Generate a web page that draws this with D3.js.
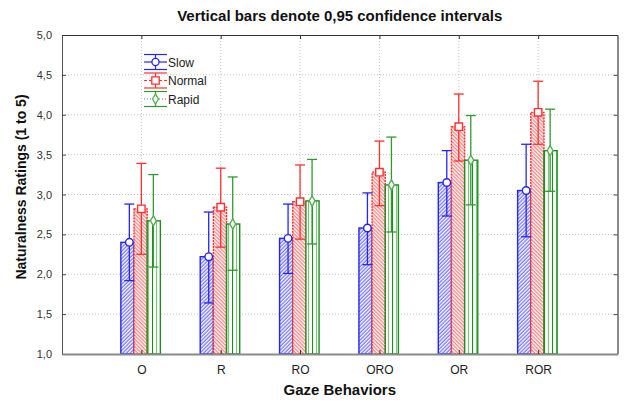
<!DOCTYPE html>
<html>
<head>
<meta charset="utf-8">
<script src="https://cdn.jsdelivr.net/npm/d3@7"></script>
<style>
  html, body { margin: 0; padding: 0; background: #fff; }
  svg { display: block; font-family: "Liberation Sans", Arial, sans-serif; }
</style>
</head>
<body>
<svg id="chart" width="624" height="403"></svg>
<script>
// ---- data ----
const categories = ["O", "R", "RO", "ORO", "OR", "ROR"];
const series = ["Slow", "Normal", "Rapid"];
const slowMean   = [2.40, 2.22, 2.45, 2.58, 3.15, 3.05];
const slowLow    = [1.92, 1.64, 2.01, 2.12, 2.73, 2.47];
const slowHigh   = [2.88, 2.78, 2.88, 3.02, 3.55, 3.63];
const normalMean = [2.82, 2.84, 2.91, 3.28, 3.85, 4.03];
const normalLow  = [2.25, 2.34, 2.44, 2.86, 3.42, 3.63];
const normalHigh = [3.39, 3.33, 3.37, 3.67, 4.26, 4.42];
const rapidMean  = [2.67, 2.63, 2.92, 3.12, 3.43, 3.55];
const rapidLow   = [2.09, 2.05, 2.38, 2.53, 2.87, 3.04];
const rapidHigh  = [3.25, 3.22, 3.44, 3.72, 3.99, 4.07];
const yTicks = [1.0, 1.5, 2.0, 2.5, 3.0, 3.5, 4.0, 4.5, 5.0];

const seriesData = {
  Slow:   { mean: slowMean,   low: slowLow,   high: slowHigh },
  Normal: { mean: normalMean, low: normalLow, high: normalHigh },
  Rapid:  { mean: rapidMean,  low: rapidLow,  high: rapidHigh }
};

// ---- styles ----
const style = {
  Slow:   { stroke: "#2424ff", bar: "url(#hatchBlue)",  dash: null,   marker: "circle" },
  Normal: { stroke: "#ff3030", bar: "url(#hatchRed)",   dash: "2,1",  marker: "square" },
  Rapid:  { stroke: "#1e8c1e", bar: "url(#vertGreen)",  dash: null,   marker: "diamond" }
};
const errColor = { Slow: "#2424ff", Normal: "#ff3030", Rapid: "#2f9a2f" };
const markColor = { Slow: "#2424ff", Normal: "#ff3030", Rapid: "#55b055" };

// ---- layout ----
const L = 62, R = 617.5, T = 35, B = 354;
const svg = d3.select("#chart");
const x = d3.scaleLinear().domain([0, categories.length + 1]).range([L, R]);
const y = d3.scaleLinear().domain([1, 5]).range([B, T]);
const barOff = d3.scaleBand().domain(series).range([-20.5, 19]).paddingInner(0);
const markOff = d3.scalePoint().domain(series).range([-12, 12]);

// ---- patterns ----
const defs = svg.append("defs");
function hatch(id, color, angle) {
  const p = defs.append("pattern").attr("id", id)
    .attr("patternUnits", "userSpaceOnUse").attr("width", 2.6).attr("height", 2.6)
    .attr("patternTransform", `rotate(${angle})`);
  p.append("rect").attr("width", 2.6).attr("height", 2.6).attr("fill", "#fff");
  p.append("line").attr("x1", 1).attr("y1", 0).attr("x2", 1).attr("y2", 2.6)
    .attr("stroke", color).attr("stroke-width", 0.9);
}
hatch("hatchBlue", "#3c3cff", 45);
hatch("hatchRed", "#ff4c4c", -45);
const pg = defs.append("pattern").attr("id", "vertGreen")
  .attr("patternUnits", "userSpaceOnUse").attr("width", 8).attr("height", 8);
pg.append("rect").attr("width", 8).attr("height", 8).attr("fill", "#fff");
pg.append("line").attr("x1", 0.5).attr("y1", 0).attr("x2", 0.5).attr("y2", 8)
  .attr("stroke", "#1e8c1e").attr("stroke-width", 1.2);
pg.append("line").attr("x1", 4.5).attr("y1", 0).attr("x2", 4.5).attr("y2", 8)
  .attr("stroke", "#7cc77c").attr("stroke-width", 1.2);

// ---- grid ----
const grid = svg.append("g");
grid.selectAll("line.h").data(yTicks.filter(v => v > 1 && v < 5)).join("line")
  .attr("x1", L).attr("x2", R).attr("y1", d => y(d)).attr("y2", d => y(d))
  .attr("stroke", "#c4c4c4").attr("stroke-dasharray", "1,2");
grid.selectAll("line.v").data(categories).join("line")
  .attr("x1", (d, i) => x(i + 1)).attr("x2", (d, i) => x(i + 1))
  .attr("y1", T).attr("y2", B)
  .attr("stroke", "#c4c4c4").attr("stroke-dasharray", "1,2");

// ---- bars ----
const barsG = svg.append("g");
series.forEach(s => {
  const sd = seriesData[s];
  barsG.append("g").selectAll("rect").data(categories).join("rect")
    .attr("x", (d, i) => x(i + 1) + barOff(s))
    .attr("width", barOff.bandwidth())
    .attr("y", (d, i) => y(sd.mean[i]))
    .attr("height", (d, i) => B - y(sd.mean[i]))
    .attr("fill", style[s].bar)
    .attr("stroke", style[s].stroke)
    .attr("stroke-width", 1.4)
    .attr("stroke-dasharray", style[s].dash);
});

// ---- error bars + markers ----
const errG = svg.append("g");
series.forEach(s => {
  const sd = seriesData[s];
  const g = errG.append("g");
  const cx = i => x(i + 1) + markOff(s);
  g.selectAll("line.v").data(categories).join("line")
    .attr("x1", (d, i) => cx(i)).attr("x2", (d, i) => cx(i))
    .attr("y1", (d, i) => y(sd.low[i])).attr("y2", (d, i) => y(sd.high[i]))
    .attr("stroke", errColor[s]).attr("stroke-width", 1.3);
  ["low", "high"].forEach(k => {
    g.append("g").selectAll("line").data(categories).join("line")
      .attr("x1", (d, i) => cx(i) - 5).attr("x2", (d, i) => cx(i) + 5)
      .attr("y1", (d, i) => y(sd[k][i])).attr("y2", (d, i) => y(sd[k][i]))
      .attr("stroke", errColor[s]).attr("stroke-width", 1.3);
  });
  const sym = style[s].marker === "circle" ? d3.symbolCircle
            : style[s].marker === "square" ? d3.symbolSquare : d3.symbolDiamond;
  const size = style[s].marker === "circle" ? 45 : style[s].marker === "square" ? 55 : 30;
  g.append("g").selectAll("path").data(categories).join("path")
    .attr("transform", (d, i) => `translate(${cx(i)},${y(sd.mean[i])})`)
    .attr("d", d3.symbol().type(sym).size(size))
    .attr("fill", "#fff").attr("stroke", markColor[s]).attr("stroke-width", 1.4);
});

// ---- axes ----
const fmt = v => d3.format(".1f")(v).replace(".", ",");
const yAxis = svg.append("g").attr("transform", `translate(${L},0)`)
  .call(d3.axisLeft(y).tickValues(yTicks).tickFormat(fmt).tickSizeInner(-4).tickSizeOuter(0).tickPadding(10));
yAxis.select(".domain").attr("stroke", "#555");
yAxis.selectAll(".tick line").attr("stroke", "#444");
yAxis.selectAll("text").attr("font-size", 11).attr("fill", "#333");

const yAxisR = svg.append("g").attr("transform", `translate(${R},0)`)
  .call(d3.axisRight(y).tickValues(yTicks.filter(v => v > 1 && v < 5)).tickFormat("").tickSizeInner(-4).tickSizeOuter(0));
yAxisR.select(".domain").attr("stroke", "#8a8a8a").attr("stroke-width", 2);
yAxisR.selectAll(".tick line").attr("stroke", "#444");

const xAxisT = svg.append("g").attr("transform", `translate(0,${T})`)
  .call(d3.axisTop(x).tickValues(d3.range(1, categories.length + 1)).tickFormat("").tickSizeInner(-4).tickSizeOuter(0));
xAxisT.select(".domain").attr("stroke", "#333");
xAxisT.selectAll(".tick line").attr("stroke", "#333");

const xAxis = svg.append("g").attr("transform", `translate(0,${B})`)
  .call(d3.axisBottom(x).tickValues(d3.range(1, categories.length + 1))
    .tickFormat(d => categories[d - 1]).tickSizeInner(-4).tickSizeOuter(0).tickPadding(11));
xAxis.select(".domain").attr("stroke", "#8a8a8a").attr("stroke-width", 2);
xAxis.selectAll(".tick line").attr("stroke", "#333");
xAxis.selectAll("text").attr("font-size", 12).attr("fill", "#222");

// ---- titles ----
svg.append("text").attr("x", (L + R) / 2).attr("y", 21).attr("text-anchor", "middle")
  .attr("font-size", 15).attr("font-weight", "bold").attr("fill", "#111")
  .text("Vertical bars denote 0,95 confidence intervals");
svg.append("text").attr("x", (L + R) / 2).attr("y", 395).attr("text-anchor", "middle")
  .attr("font-size", 15).attr("font-weight", "bold").attr("fill", "#111")
  .text("Gaze Behaviors");
svg.append("text").attr("transform", "translate(26,187) rotate(-90)").attr("text-anchor", "middle")
  .attr("font-size", 14).attr("font-weight", "bold").attr("fill", "#111")
  .text("Naturalness Ratings (1 to 5)");

// ---- legend ----
const legendDash = { Slow: null, Normal: "3,2", Rapid: "1,2" };
const leg = svg.append("g").attr("transform", "translate(144,62)");
const item = leg.selectAll("g").data(series).join("g")
  .attr("transform", (d, i) => `translate(0,${i * 18.5})`);
item.each(function (s) {
  const g = d3.select(this);
  const c = errColor[s];
  g.append("line").attr("x1", 0).attr("x2", 23).attr("y1", -7.5).attr("y2", -7.5).attr("stroke", c).attr("stroke-width", 1.2);
  g.append("line").attr("x1", 0).attr("x2", 23).attr("y1", 7.5).attr("y2", 7.5).attr("stroke", c).attr("stroke-width", 1.2);
  g.append("line").attr("x1", 0).attr("x2", 23).attr("y1", 0).attr("y2", 0).attr("stroke", c)
    .attr("stroke-width", 1.2).attr("stroke-dasharray", legendDash[s]);
  g.append("line").attr("x1", 11.5).attr("x2", 11.5).attr("y1", -7.5).attr("y2", 7.5).attr("stroke", c).attr("stroke-width", 1.2);
  const sym = style[s].marker === "circle" ? d3.symbolCircle
            : style[s].marker === "square" ? d3.symbolSquare : d3.symbolDiamond;
  const size = style[s].marker === "circle" ? 40 : style[s].marker === "square" ? 55 : 30;
  g.append("path").attr("transform", "translate(11.5,0)").attr("d", d3.symbol().type(sym).size(size))
    .attr("fill", "#fff").attr("stroke", markColor[s]).attr("stroke-width", 1.3);
  g.append("text").attr("x", 24).attr("y", 4.5).attr("font-size", 12).attr("fill", "#222").text(s);
});
</script>
</body>
</html>
